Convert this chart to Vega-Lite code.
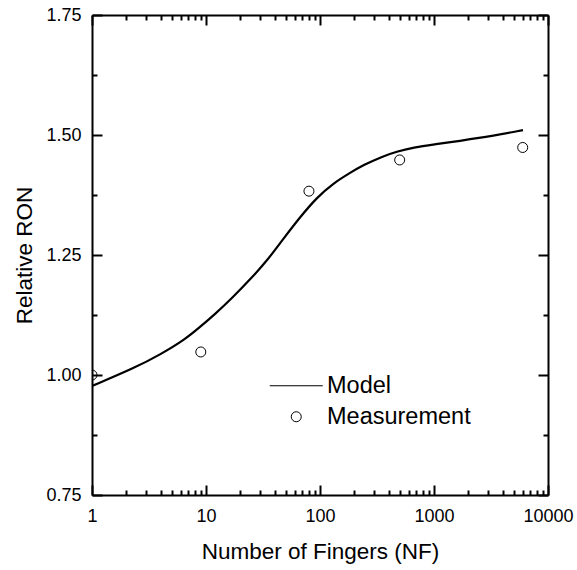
{
  "$schema": "https://vega.github.io/schema/vega-lite/v6.json",
  "width": 456,
  "height": 480,
  "autosize": {"type": "none"},
  "padding": {"left": 92, "top": 15, "right": 29, "bottom": 75},
  "background": "white",
  "config": {
    "view": {"stroke": null},
    "font": "Liberation Sans",
    "axis": {
      "grid": false,
      "domainColor": "black",
      "domainWidth": 2,
      "tickColor": "black",
      "tickWidth": 2,
      "labelColor": "black",
      "titleColor": "black",
      "labelFontSize": 18,
      "titleFontSize": 22.5,
      "titleFontWeight": "normal",
      "labelFont": "Liberation Sans",
      "titleFont": "Liberation Sans"
    }
  },
  "datasets": {
    "model": [
      {"N": 1, "R": 0.977},
      {"N": 2.38, "R": 1.015},
      {"N": 4, "R": 1.043},
      {"N": 6.54, "R": 1.074},
      {"N": 8.86, "R": 1.1},
      {"N": 12, "R": 1.127},
      {"N": 16.9, "R": 1.16},
      {"N": 25, "R": 1.202},
      {"N": 34.3, "R": 1.238},
      {"N": 47.4, "R": 1.283},
      {"N": 66.8, "R": 1.329},
      {"N": 94.1, "R": 1.37},
      {"N": 130, "R": 1.399},
      {"N": 183, "R": 1.421},
      {"N": 238, "R": 1.437},
      {"N": 350, "R": 1.455},
      {"N": 474, "R": 1.466},
      {"N": 700, "R": 1.475},
      {"N": 922, "R": 1.479},
      {"N": 2533, "R": 1.494},
      {"N": 6036, "R": 1.51}
    ],
    "meas": [
      {"N": 1, "R": 1.0, "series": "Measurement"},
      {"N": 9, "R": 1.048, "series": "Measurement"},
      {"N": 80, "R": 1.383, "series": "Measurement"},
      {"N": 500, "R": 1.448, "series": "Measurement"},
      {"N": 6000, "R": 1.474, "series": "Measurement"}
    ]
  },
  "layer": [
    {
      "data": {"name": "model"},
      "mark": {"type": "line", "color": "black", "strokeWidth": 2.2, "interpolate": "basis", "clip": true},
      "encoding": {
        "x": {
          "field": "N", "type": "quantitative",
          "scale": {"type": "log", "domain": [1, 10000], "nice": false},
          "axis": {"orient": "bottom", "title": "Number of Fingers (NF)", "values": [1, 10, 100, 1000, 10000], "format": "d", "tickSize": -10, "labelPadding": 22, "labelFlush": false, "titleBaseline": "alphabetic", "titleY": 63}
        },
        "y": {
          "field": "R", "type": "quantitative",
          "scale": {"domain": [0.75, 1.75], "nice": false, "zero": false},
          "axis": {"orient": "left", "title": "Relative RON", "values": [0.75, 1, 1.25, 1.5, 1.75], "format": ".2f", "tickSize": -10, "labelPadding": 21, "labelFlush": false, "titleX": -61, "titleBaseline": "alphabetic"}
        }
      }
    },
    {
      "data": {"name": "meas"},
      "mark": {"type": "point", "filled": false, "color": "black", "size": 100, "strokeWidth": 1, "opacity": 1, "clip": true},
      "encoding": {
        "x": {
          "field": "N", "type": "quantitative",
          "scale": {"type": "log", "domain": [1, 10000], "nice": false},
          "axis": {"orient": "top", "title": null, "values": [1, 10, 100, 1000, 10000], "labels": false, "tickSize": -10}
        },
        "y": {
          "field": "R", "type": "quantitative",
          "scale": {"domain": [0.75, 1.75], "nice": false, "zero": false},
          "axis": {"orient": "right", "title": null, "values": [0.75, 1, 1.25, 1.5, 1.75], "labels": false, "tickSize": -10}
        },
        "shape": {
          "field": "series", "type": "nominal",
          "scale": {"domain": ["Model", "Measurement"], "range": ["M-5.3,0H5.3", "circle"]},
          "legend": {
            "orient": "none", "legendX": 192.5, "legendY": 359, "title": null, "padding": 0,
            "symbolSize": 100, "symbolStrokeColor": "black", "symbolFillColor": "transparent", "symbolStrokeWidth": 1,
            "labelFontSize": 23.5, "labelFont": "Liberation Sans", "labelColor": "black", "labelOffset": 19, "rowPadding": 6,
            "encode": {"symbols": {"update": {"strokeWidth": {"signal": "datum.label === 'Model' ? 2 : 1"}}}}
          }
        }
      }
    },
    {
      "data": {"name": "meas"},
      "mark": {"type": "point", "opacity": 0},
      "encoding": {
        "x": {
          "field": "N", "type": "quantitative",
          "scale": {"type": "log", "domain": [1, 10000], "nice": false},
          "axis": {"orient": "bottom", "title": null, "values": [2, 3, 4, 5, 6, 7, 8, 9, 20, 30, 40, 50, 60, 70, 80, 90, 200, 300, 400, 500, 600, 700, 800, 900, 2000, 3000, 4000, 5000, 6000, 7000, 8000, 9000], "labels": false, "domain": false, "tickSize": -5}
        },
        "y": {
          "field": "R", "type": "quantitative",
          "scale": {"domain": [0.75, 1.75], "nice": false, "zero": false},
          "axis": {"orient": "left", "title": null, "values": [0.875, 1.125, 1.375, 1.625], "labels": false, "domain": false, "tickSize": -5}
        }
      }
    },
    {
      "data": {"name": "meas"},
      "mark": {"type": "point", "opacity": 0},
      "encoding": {
        "x": {
          "field": "N", "type": "quantitative",
          "scale": {"type": "log", "domain": [1, 10000], "nice": false},
          "axis": {"orient": "top", "title": null, "values": [2, 3, 4, 5, 6, 7, 8, 9, 20, 30, 40, 50, 60, 70, 80, 90, 200, 300, 400, 500, 600, 700, 800, 900, 2000, 3000, 4000, 5000, 6000, 7000, 8000, 9000], "labels": false, "domain": false, "tickSize": -5}
        },
        "y": {
          "field": "R", "type": "quantitative",
          "scale": {"domain": [0.75, 1.75], "nice": false, "zero": false},
          "axis": {"orient": "right", "title": null, "values": [0.875, 1.125, 1.375, 1.625], "labels": false, "domain": false, "tickSize": -5}
        }
      }
    }
  ],
  "resolve": {"axis": {"x": "independent", "y": "independent"}}
}
